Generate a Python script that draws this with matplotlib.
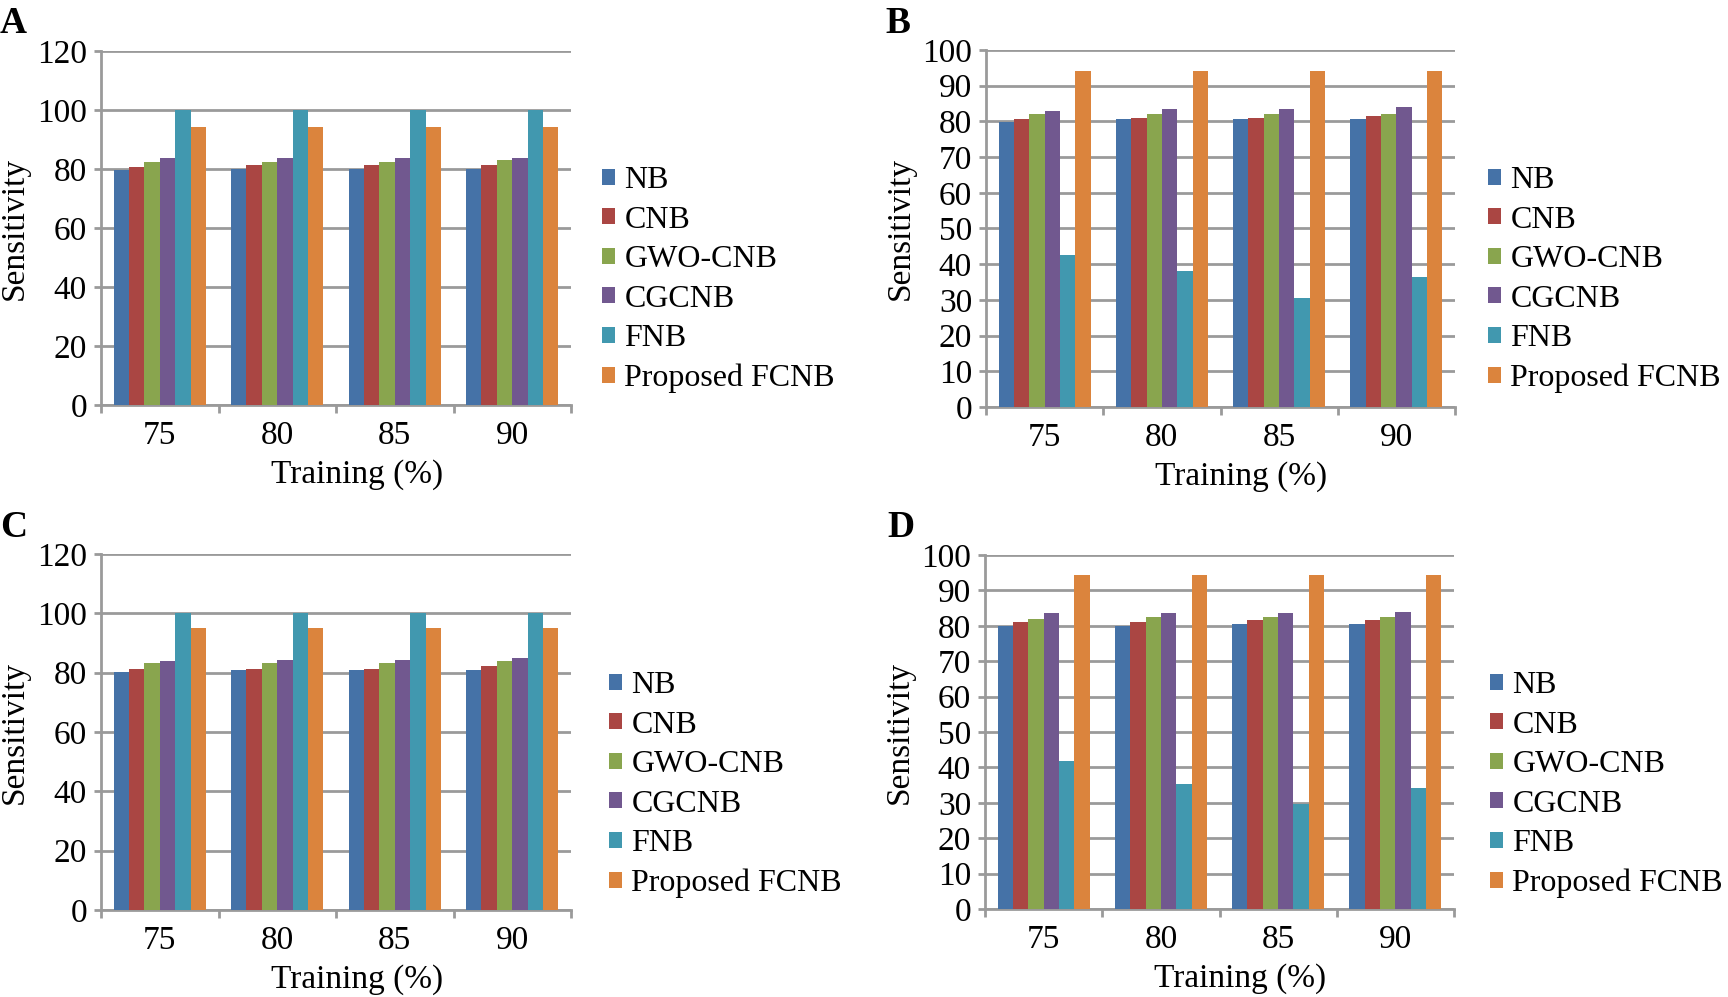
import numpy as np
import matplotlib
matplotlib.use('Agg')
import matplotlib.pyplot as plt

plt.rcParams['font.family'] = ['Liberation Serif', 'DejaVu Serif']

training = ['75', '80', '85', '90']
methods = ['NB', 'CNB', 'GWO-CNB', 'CGCNB', 'FNB', 'Proposed FCNB']
colors = ['#4572A7', '#AA4643', '#89A54E', '#71588F', '#4198AF', '#DB843D']

# panel A
a_nb = [79.7, 80.1, 80.1, 80.1]
a_cnb = [80.7, 81.3, 81.3, 81.3]
a_gwo = [82.5, 82.5, 82.5, 83.0]
a_cgcnb = [83.6, 83.6, 83.6, 83.6]
a_fnb = [100, 100, 100, 100]
a_fcnb = [94.3, 94.3, 94.3, 94.3]

# panel B
b_nb = [79.7, 80.6, 80.6, 80.6]
b_cnb = [80.6, 81.0, 81.0, 81.4]
b_gwo = [82.0, 82.0, 82.0, 82.0]
b_cgcnb = [83.0, 83.5, 83.5, 83.9]
b_fnb = [42.7, 38.1, 30.4, 36.3]
b_fcnb = [94.2, 94.2, 94.2, 94.2]

# panel C
c_nb = [80.3, 80.9, 80.9, 80.9]
c_cnb = [81.4, 81.4, 81.4, 82.1]
c_gwo = [83.3, 83.3, 83.3, 83.9]
c_cgcnb = [83.9, 84.4, 84.4, 85.0]
c_fnb = [100, 100, 100, 100]
c_fcnb = [95.0, 95.0, 95.0, 95.0]

# panel D
d_nb = [80.0, 80.0, 80.5, 80.5]
d_cnb = [81.0, 81.0, 81.6, 81.6]
d_gwo = [82.0, 82.5, 82.5, 82.5]
d_cgcnb = [83.5, 83.5, 83.5, 83.9]
d_fnb = [41.7, 35.3, 29.7, 34.3]
d_fcnb = [94.3, 94.3, 94.3, 94.3]

panels = [
    ('A', [a_nb, a_cnb, a_gwo, a_cgcnb, a_fnb, a_fcnb], 120, 20),
    ('B', [b_nb, b_cnb, b_gwo, b_cgcnb, b_fnb, b_fcnb], 100, 10),
    ('C', [c_nb, c_cnb, c_gwo, c_cgcnb, c_fnb, c_fcnb], 120, 20),
    ('D', [d_nb, d_cnb, d_gwo, d_cgcnb, d_fnb, d_fcnb], 100, 10),
]

W, H = 1728, 997
fig = plt.figure(figsize=(W / 100, H / 100), dpi=100)

# axes boxes in pixels: left, top, right, bottom
boxes = [(101, 51, 571, 405), (986, 50, 1455, 407),
         (101, 554, 571, 910), (985, 555, 1454, 909)]
legend_pos = [(602, 166), (1488, 166), (609, 671), (1490, 671)]
label_pos = [(0, 6), (885, 6), (0, 510), (887, 510)]

grey = '#9a9a9a'
x = np.arange(len(training))
bw = 0.131

for (name, series, ymax, step), box, lp, tp in zip(panels, boxes, legend_pos, label_pos):
    l, t, r, b = box
    ax = fig.add_axes([l / W, 1 - b / H, (r - l) / W, (b - t) / H])
    for i, vals in enumerate(series):
        ax.bar(x + (i - 2.5) * bw, vals, bw, color=colors[i], label=methods[i], zorder=3)
    ax.set_xlim(-0.5, 3.5)
    ax.set_ylim(0, ymax)
    ax.set_yticks(np.arange(0, ymax + 1, step))
    ax.yaxis.grid(True, color=grey, linewidth=2)
    ax.set_axisbelow(True)
    for s in ['top', 'right']:
        ax.spines[s].set_visible(False)
    for s in ['left', 'bottom']:
        ax.spines[s].set_color(grey)
        ax.spines[s].set_linewidth(2)
    ax.set_xticks(x)
    ax.set_xticklabels(training)
    ax.set_xticks(np.arange(-0.5, 4, 1), minor=True)
    ax.tick_params(axis='x', which='major', length=0, pad=11, labelsize=24)
    ax.tick_params(axis='x', which='minor', length=6, width=2, color=grey)
    ax.tick_params(axis='y', length=5, width=2, color=grey, pad=5, labelsize=24)
    ax.set_xlabel('Training (%)', fontsize=24, x=0.544, labelpad=6)
    ax.set_ylabel('Sensitivity', fontsize=24, labelpad=5)

    handles, labels = ax.get_legend_handles_labels()
    fig.legend(handles, labels, loc='upper left',
               bbox_to_anchor=(lp[0] / W, 1 - lp[1] / H),
               frameon=False, fontsize=23, handlelength=0.4, handleheight=0.4,
               handletextpad=0.3, labelspacing=0.33, borderaxespad=0, borderpad=0)

    fig.text(tp[0] / W, 1 - tp[1] / H, name, fontsize=27, fontweight='bold', va='top', ha='left')

fig.savefig('out.png', dpi=100)
